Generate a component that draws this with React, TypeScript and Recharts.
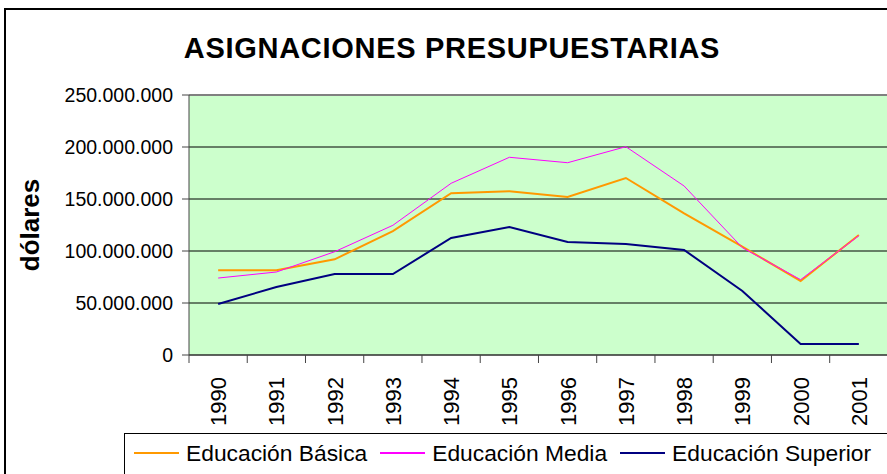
import React from "react";
import { CartesianGrid, Line, LineChart, ReferenceLine, XAxis, YAxis } from "recharts";

const years = ["1990", "1991", "1992", "1993", "1994", "1995", "1996", "1997", "1998", "1999", "2000", "2001"];

// millones de dólares
const basica = [81.4, 81.4, 92.0, 119.2, 155.5, 157.4, 151.9, 170.2, 136.2, 104.1, 71.2, 115.4];
const media = [74.0, 79.8, 99.3, 124.7, 165.1, 190.1, 184.9, 200.3, 162.5, 103.2, 72.4, 114.7];
const superior = [49.0, 65.4, 77.9, 77.9, 112.5, 123.1, 108.7, 106.7, 101.0, 61.5, 10.6, 10.6];

const yTicks = [0, 50000000, 100000000, 150000000, 200000000, 250000000];

const series = [
  { key: "basica", name: "Educación Básica", color: "#FF9900", width: 2 },
  { key: "media", name: "Educación Media", color: "#FF00FF", width: 1 },
  { key: "superior", name: "Educación Superior", color: "#000080", width: 2 },
];

const data = years.map((year, i) => ({
  year,
  basica: basica[i] * 1e6,
  media: media[i] * 1e6,
  superior: superior[i] * 1e6,
}));

const FONT = "Arial, 'Liberation Sans', sans-serif";
const HALF_BAND = 29.15;

function formatDots(v: number) {
  return String(Math.round(v)).replace(/\B(?=(\d{3})+(?!\d))/g, ".");
}

function YearTick(props: any) {
  const { x, y, payload, index } = props;
  const axisY = y - 22;
  return (
    <g>
      <line x1={x - HALF_BAND} x2={x - HALF_BAND} y1={axisY} y2={axisY + 8} stroke="#444" />
      {index === years.length - 1 && (
        <line x1={x + HALF_BAND} x2={x + HALF_BAND} y1={axisY} y2={axisY + 8} stroke="#444" />
      )}
      <text
        x={x}
        y={y}
        transform={`rotate(-90, ${x}, ${y})`}
        textAnchor="end"
        dy="0.36em"
        fontSize={22}
        fontFamily={FONT}
        fill="#000"
      >
        {payload.value}
      </text>
    </g>
  );
}

export default function App() {
  return (
    <div
      style={{
        position: "absolute",
        left: 0,
        top: 0,
        width: 887,
        height: 474,
        overflow: "hidden",
        background: "#fff",
        fontFamily: FONT,
      }}
    >
      <div
        style={{
          position: "absolute",
          left: 4,
          top: 8,
          width: 1000,
          height: 600,
          border: "2px solid #000",
        }}
      />
      <div
        style={{
          position: "absolute",
          left: 0,
          top: 34,
          width: 904,
          textAlign: "center",
          fontSize: 29,
          lineHeight: "29px",
          fontWeight: 700,
          letterSpacing: 0.7,
        }}
      >
        ASIGNACIONES PRESUPUESTARIAS
      </div>
      <div
        style={{
          position: "absolute",
          left: 30,
          top: 225,
          transform: "translate(-50%, -50%) rotate(-90deg)",
          fontSize: 26,
          lineHeight: "26px",
          fontWeight: 700,
          whiteSpace: "nowrap",
        }}
      >
        dólares
      </div>

      <div style={{ position: "absolute", left: 0, top: 0 }}>
        <LineChart width={900} height={474} data={data} margin={{ top: 95, right: 12, bottom: 49, left: 0 }}>
          <CartesianGrid vertical={false} stroke="#000" fill="#CCFFCC" fillOpacity={1} />
          <XAxis
            dataKey="year"
            padding={{ left: HALF_BAND, right: HALF_BAND }}
            height={70}
            tickLine={false}
            tickSize={8}
            tickMargin={14}
            interval={0}
            axisLine={{ stroke: "#444" }}
            tick={<YearTick />}
          />
          <YAxis
            width={189}
            domain={[0, 250000000]}
            ticks={yTicks}
            tickFormatter={formatDots}
            tickSize={7}
            tickMargin={9}
            axisLine={{ stroke: "#444" }}
            tickLine={{ stroke: "#444" }}
            tick={{ fontSize: 19.5, fill: "#000", fontFamily: FONT }}
          />
          <ReferenceLine y={250000000} stroke="#808080" strokeWidth={2} />
          {series.map((s) => (
            <Line
              key={s.key}
              type="linear"
              dataKey={s.key}
              name={s.name}
              stroke={s.color}
              strokeWidth={s.width}
              dot={false}
              isAnimationActive={false}
            />
          ))}
        </LineChart>
      </div>

      <div
        style={{
          position: "absolute",
          left: 124,
          top: 433,
          width: 900,
          height: 80,
          border: "1px solid #000",
          boxSizing: "border-box",
        }}
      >
        <div
          style={{
            position: "absolute",
            left: 9,
            top: 6,
            display: "flex",
            alignItems: "center",
            fontSize: 22.8,
            lineHeight: "26px",
            whiteSpace: "nowrap",
          }}
        >
          {series.map((s) => (
            <div key={s.key} style={{ display: "flex", alignItems: "center", marginRight: 13 }}>
              <div style={{ width: 45, height: 2, background: s.color, marginRight: 7 }} />
              <span>{s.name}</span>
            </div>
          ))}
        </div>
      </div>
    </div>
  );
}
